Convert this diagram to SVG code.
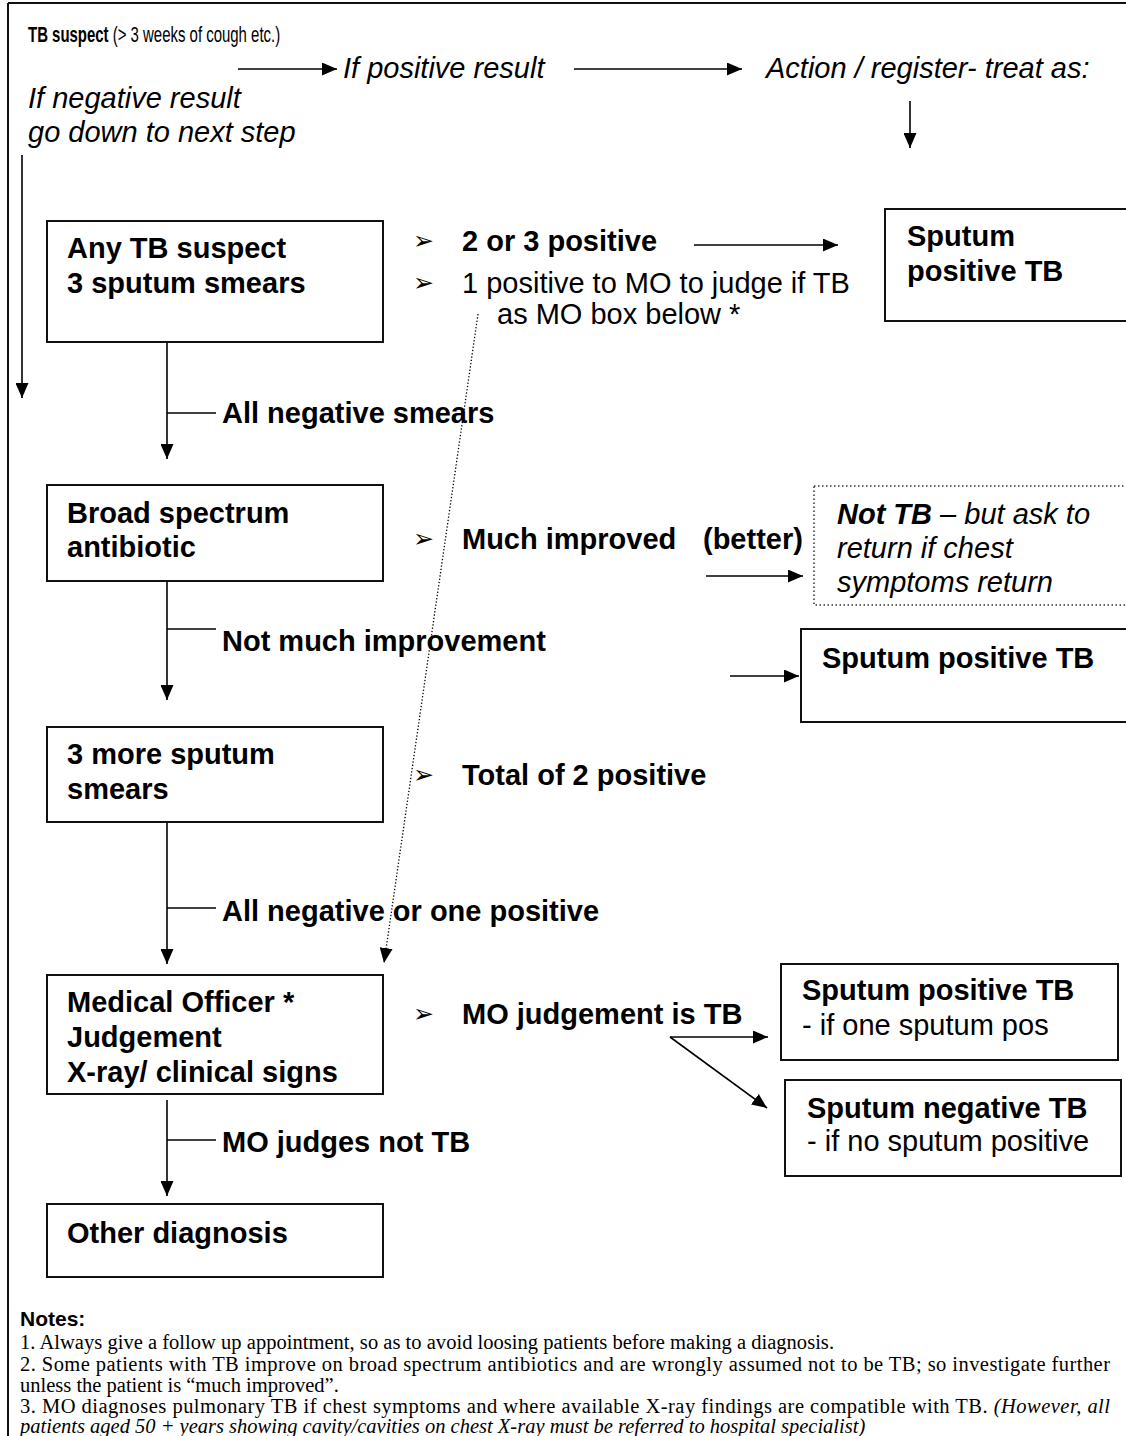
<svg xmlns="http://www.w3.org/2000/svg" width="1126" height="1436" viewBox="0 0 1126 1436">
<defs>
<style>
.box{fill:#fff;stroke:#111;stroke-width:2}
.dbox{fill:#fff;stroke:#333;stroke-width:1.5;stroke-dasharray:1.5 2.5}
.b{font-family:"Liberation Sans",Arial,sans-serif;font-weight:bold;font-size:29px;fill:#000}
.r{font-family:"Liberation Sans",Arial,sans-serif;font-size:29px;fill:#000}
.i{font-family:"Liberation Sans",Arial,sans-serif;font-style:italic;font-size:29px;fill:#000}
.bul{font-family:"DejaVu Sans",sans-serif;font-size:25px;fill:#000}
.ln{stroke:#000;stroke-width:1.6;fill:none}
.ar{stroke:#000;stroke-width:1.6;fill:none;marker-end:url(#ah)}
.dot{stroke:#000;stroke-width:1.3;fill:none;stroke-dasharray:1.3 2;marker-end:url(#ah)}
.nt{font-family:"Liberation Serif","Times New Roman",serif;font-size:20.5px;fill:#000}
</style>
<marker id="ah" markerUnits="userSpaceOnUse" markerWidth="16" markerHeight="13" refX="15" refY="6.5" orient="auto">
<path d="M0,0 L15,6.5 L0,13 z" fill="#000"/>
</marker>
</defs>
<rect width="1126" height="1436" fill="#fff"/>
<g id="frame">
<line x1="8" y1="3" x2="1126" y2="3" stroke="#111" stroke-width="2"/>
<line x1="8" y1="3" x2="8" y2="1436" stroke="#111" stroke-width="2"/>
</g>
<g id="header">
<text transform="matrix(0.68 0 0 1 28 42)" font-family="Liberation Sans,Arial,sans-serif" font-size="22"><tspan font-weight="bold">TB suspect</tspan> (&gt; 3 weeks of cough etc.)</text>
<text class="i" x="343" y="78">If positive result</text>
<text class="i" x="766" y="78">Action / register- treat as:</text>
<text class="i" x="28" y="108">If negative result</text>
<text class="i" x="28" y="142">go down to next step</text>
</g>
<g id="n-any-tb-suspect">
<rect class="box" x="47" y="221" width="336" height="121"/>
<text class="b" x="67" y="258">Any TB suspect</text>
<text class="b" x="67" y="293">3 sputum smears</text>
</g>
<g id="n-result-1">
<text class="bul" x="413" y="249">➢</text>
<text class="b" x="462" y="251">2 or 3 positive</text>
<text class="bul" x="413" y="291">➢</text>
<text class="r" x="462" y="293">1 positive to MO to judge if TB</text>
<text class="r" x="497" y="324">as MO box below *</text>
</g>
<g id="n-sputum-pos-1">
<rect class="box" x="885" y="209" width="250" height="112"/>
<text class="b" x="907" y="246">Sputum</text>
<text class="b" x="907" y="281">positive TB</text>
</g>
<g id="n-broad">
<rect class="box" x="47" y="485" width="336" height="96"/>
<text class="b" x="67" y="523">Broad spectrum</text>
<text class="b" x="67" y="557">antibiotic</text>
</g>
<g id="n-result-2">
<text class="bul" x="413" y="547">➢</text>
<text class="b" x="462" y="549">Much improved</text>
<text class="b" x="703" y="549">(better)</text>
</g>
<g id="n-not-tb">
<rect class="dbox" x="814" y="486" width="320" height="119"/>
<text class="i" x="837" y="524"><tspan font-weight="bold">Not TB</tspan> – but ask to</text>
<text class="i" x="837" y="558">return if chest</text>
<text class="i" x="837" y="592">symptoms return</text>
</g>
<g id="n-sputum-pos-2">
<rect class="box" x="801" y="629" width="330" height="93"/>
<text class="b" x="822" y="668">Sputum positive TB</text>
</g>
<g id="n-3-more">
<rect class="box" x="47" y="727" width="336" height="95"/>
<text class="b" x="67" y="764">3 more sputum</text>
<text class="b" x="67" y="799">smears</text>
</g>
<g id="n-result-3">
<text class="bul" x="413" y="783">➢</text>
<text class="b" x="462" y="785">Total of 2 positive</text>
</g>
<g id="n-mo">
<rect class="box" x="47" y="975" width="336" height="119"/>
<text class="b" x="67" y="1012">Medical Officer *</text>
<text class="b" x="67" y="1047">Judgement</text>
<text class="b" x="67" y="1082">X-ray/ clinical signs</text>
</g>
<g id="n-result-4">
<text class="bul" x="413" y="1022">➢</text>
<text class="b" x="462" y="1024">MO judgement is TB</text>
</g>
<g id="n-sputum-pos-3">
<rect class="box" x="781" y="964" width="337" height="96"/>
<text class="b" x="802" y="1000">Sputum positive TB</text>
<text class="r" x="802" y="1035">- if one sputum pos</text>
</g>
<g id="n-sputum-neg">
<rect class="box" x="785" y="1080" width="336" height="96"/>
<text class="b" x="807" y="1118">Sputum negative TB</text>
<text class="r" x="807" y="1151">- if no sputum positive</text>
</g>
<g id="n-other">
<rect class="box" x="47" y="1204" width="336" height="73"/>
<text class="b" x="67" y="1243">Other diagnosis</text>
</g>
<g id="connectors">
<line class="ar" x1="238" y1="69" x2="337" y2="69"/>
<line class="ar" x1="574" y1="69" x2="742" y2="69"/>
<line class="ar" x1="910" y1="101" x2="910" y2="148"/>
<line class="ar" x1="22" y1="155" x2="22" y2="398"/>
<line class="ar" x1="694" y1="245" x2="838" y2="245"/>
<line class="ar" x1="167" y1="342" x2="167" y2="459"/>
<line class="ln" x1="167" y1="413" x2="216" y2="413"/>
<text class="b" x="222" y="423">All negative smears</text>
<line class="ar" x1="706" y1="576" x2="803" y2="576"/>
<line class="ar" x1="167" y1="581" x2="167" y2="700"/>
<line class="ln" x1="167" y1="629" x2="216" y2="629"/>
<text class="b" x="222" y="651">Not much improvement</text>
<line class="ar" x1="730" y1="676" x2="799" y2="676"/>
<line class="ar" x1="167" y1="822" x2="167" y2="964"/>
<line class="ln" x1="167" y1="908" x2="216" y2="908"/>
<text class="b" x="222" y="921">All negative or one positive</text>
<line class="dot" x1="478" y1="314" x2="384" y2="963"/>
<line class="ar" x1="670" y1="1037" x2="768" y2="1037"/>
<line class="ar" x1="670" y1="1037" x2="767" y2="1108"/>
<line class="ar" x1="167" y1="1100" x2="167" y2="1196"/>
<line class="ln" x1="167" y1="1140" x2="216" y2="1140"/>
<text class="b" x="222" y="1152">MO judges not TB</text>
</g>
<g id="notes">
<text x="20" y="1326" font-family="Liberation Sans,Arial,sans-serif" font-weight="bold" font-size="21">Notes:</text>
<text class="nt" x="20" y="1349" textLength="814" lengthAdjust="spacing">1. Always give a follow up appointment, so as to avoid loosing patients before making a diagnosis.</text>
<text class="nt" x="20" y="1371" textLength="1090" lengthAdjust="spacing">2. Some patients with TB improve on broad spectrum antibiotics and are wrongly assumed not to be TB; so investigate further</text>
<text class="nt" x="20" y="1392">unless the patient is “much improved”.</text>
<text class="nt" x="20" y="1413" textLength="1090" lengthAdjust="spacing">3. MO diagnoses pulmonary TB if chest symptoms and where available X-ray findings are compatible with TB. <tspan font-style="italic">(However, all</tspan></text>
<text class="nt" x="20" y="1433" font-style="italic">patients aged 50 + years showing cavity/cavities on chest X-ray must be referred to hospital specialist)</text>
</g>
</svg>
